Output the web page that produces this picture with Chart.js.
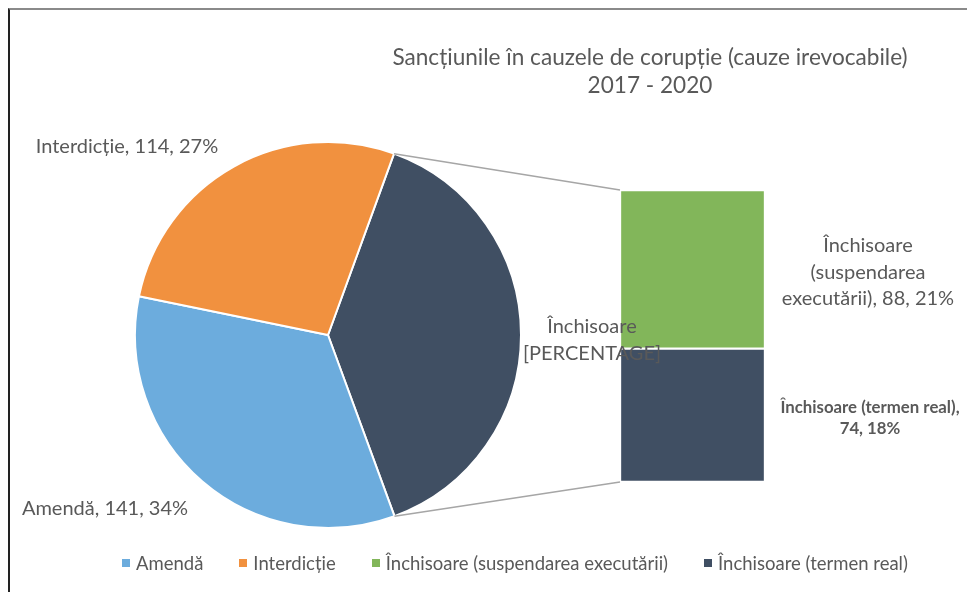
<!DOCTYPE html>
<html>
<head>
<meta charset="utf-8">
<script src="https://cdn.jsdelivr.net/npm/chart.js@4"></script>
<style>
  body { margin: 0; background: #fff; }
  #page { position: relative; width: 967px; height: 592px; overflow: hidden; font-family: Lato, "Noto Sans", sans-serif; color: #595959; }
  #frame { position: absolute; left: 8px; top: 8px; right: -10px; bottom: -10px; border-top: 2px solid #8a8a8a; border-left: 2px solid #222; }
  canvas { position: absolute; }
  #pieChart { left: 0; top: 0; }
  #barChart { left: 620px; top: 190px; }
  .lbl { position: absolute; white-space: nowrap; transform: translate(-50%, -50%); text-align: center; }
  #title { left: 650px; top: 71px; font-size: 22.6px; line-height: 28px; }
  #legend { position: absolute; left: 122px; top: 552px; display: flex; align-items: center; font-size: 18.5px; }
  .item { display: flex; align-items: center; margin-right: 36px; }
  .sw { width: 8px; height: 8px; margin-right: 6px; }
</style>
</head>
<body>
<div id="page">
  <div id="frame"></div>
  <canvas id="pieChart" width="967" height="592"></canvas>
  <canvas id="barChart" width="145" height="292"></canvas>
  <div id="title" class="lbl">Sancțiunile în cauzele de corupție (cauze irevocabile)<br>2017 - 2020</div>
  <div id="labels"></div>
  <div id="legend"></div>
</div>
<script>
// Data
const categories = ["Amendă", "Interdicție", "Închisoare (suspendarea executării)", "Închisoare (termen real)"];
const values = [141, 114, 88, 74];
const colors = ["#6cacdd", "#f1913f", "#82b65a", "#404f63"];
const prisonLabel = "Închisoare";

const total = values.reduce((a, b) => a + b, 0);
const pct = v => Math.round(v / total * 100) + "%";

// Pie: prison group first, then the other two
const pieLabels = [prisonLabel, categories[0], categories[1]];
const pieValues = [values[2] + values[3], values[0], values[1]];
const pieColors = [colors[3], colors[0], colors[1]];

// Bar: stacked from the bottom, real term below, suspended on top
const barChart = new Chart(document.getElementById("barChart"), {
    type: "bar",
    data: {
        labels: [prisonLabel],
        datasets: [
            { label: categories[3], data: [values[3]], backgroundColor: colors[3], borderColor: "#fff", borderWidth: 1.5, borderSkipped: false },
            { label: categories[2], data: [values[2]], backgroundColor: colors[2], borderColor: "#fff", borderWidth: 1.5, borderSkipped: false }
        ]
    },
    options: {
        responsive: false,
        animation: false,
        events: [],
        barPercentage: 1,
        categoryPercentage: 1,
        layout: { padding: 0 },
        plugins: { legend: { display: false }, tooltip: { enabled: false } },
        scales: {
            x: { stacked: true, display: false },
            y: { stacked: true, display: false, min: 0, max: values[2] + values[3] }
        }
    }
});

// Connector lines from the prison slice edges to the bar corners
const connectors = {
    id: "connectors",
    afterDatasetsDraw(chart) {
        const arc = chart.getDatasetMeta(0).data[0];
        const top = barChart.getDatasetMeta(1).data[0];
        const bottom = barChart.getDatasetMeta(0).data[0];
        const bx = 620 + top.x - top.width / 2;
        const ctx = chart.ctx;
        ctx.save();
        ctx.strokeStyle = "#a6a6a6";
        ctx.lineWidth = 1.5;
        ctx.beginPath();
        ctx.moveTo(arc.x + arc.outerRadius * Math.cos(arc.startAngle), arc.y + arc.outerRadius * Math.sin(arc.startAngle));
        ctx.lineTo(bx, 190 + top.y);
        ctx.moveTo(arc.x + arc.outerRadius * Math.cos(arc.endAngle), arc.y + arc.outerRadius * Math.sin(arc.endAngle));
        ctx.lineTo(bx, 190 + bottom.base);
        ctx.stroke();
        ctx.restore();
    }
};

new Chart(document.getElementById("pieChart"), {
    type: "pie",
    data: {
        labels: pieLabels,
        datasets: [{ data: pieValues, backgroundColor: pieColors, borderColor: "#fff", borderWidth: 2 }]
    },
    options: {
        responsive: false,
        animation: false,
        events: [],
        rotation: 20,
        radius: 193,
        layout: { padding: { left: 128, right: 439, top: 135, bottom: 57 } },
        plugins: { legend: { display: false }, tooltip: { enabled: false } }
    },
    plugins: [connectors]
});

// Data labels
const labelDefs = [
    { html: `${categories[1]}, ${values[1]}, ${pct(values[1])}`, x: 127, y: 145, size: 20 },
    { html: `${categories[0]}, ${values[0]}, ${pct(values[0])}`, x: 105, y: 507, size: 20 },
    { html: `${prisonLabel}<br>[PERCENTAGE]`, x: 592, y: 338, size: 20 },
    { html: `${prisonLabel}<br>(suspendarea<br>executării), ${values[2]}, ${pct(values[2])}`, x: 868, y: 271, size: 20 },
    { html: `${categories[3]},<br>${values[3]}, ${pct(values[3])}`, x: 870, y: 417, size: 16.8, bold: true }
];
const labelsDiv = document.getElementById("labels");
labelDefs.forEach(d => {
    const el = document.createElement("div");
    el.className = "lbl";
    el.innerHTML = d.html;
    el.style.left = d.x + "px";
    el.style.top = d.y + "px";
    el.style.fontSize = d.size + "px";
    el.style.lineHeight = d.bold ? "21px" : "26.5px";
    if (d.bold) el.style.fontWeight = "bold";
    labelsDiv.appendChild(el);
});

// Legend
const legend = document.getElementById("legend");
categories.forEach((c, i) => {
    const item = document.createElement("div");
    item.className = "item";
    item.innerHTML = `<span class="sw" style="background:${colors[i]}"></span><span>${c}</span>`;
    legend.appendChild(item);
});
</script>
</body>
</html>
